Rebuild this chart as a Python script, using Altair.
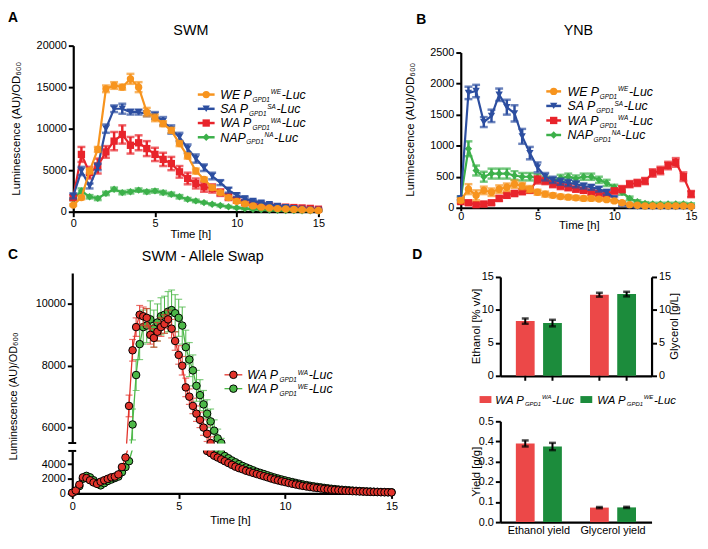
import altair as alt
import pandas as pd

FONT = "Liberation Sans"
W, H = 700, 530

# ---------------- Panel A (SWM) and B (YNB): time in hours ----------------
time_h = [0, 0.5, 1, 1.5, 2, 2.5, 3, 3.5, 4, 4.5, 5, 5.5, 6, 6.5, 7, 7.5,
          8, 8.5, 9, 9.5, 10, 10.5, 11, 11.5, 12, 12.5, 13, 13.5, 14, 14.5, 15]

A_WE = [800, 1700, 4900, 7500, 14800, 15200, 15000, 16000, 15000, 12000, 11300, 10600, 9800, 8200, 6700, 4900,
        3900, 2900, 2300, 1700, 1250, 950, 700, 550, 450, 380, 330, 280, 240, 200, 150]
A_WE_err = [100, 200, 300, 300, 400, 400, 300, 600, 600, 500, 400, 300, 300, 300, 300, 300,
            200, 200, 200, 150, 150, 100, 100, 100, 80, 80, 80, 80, 60, 60, 60]
A_SA = [1900, 4900, 3100, 5400, 10000, 12400, 12400, 12000, 12000, 11800, 11600, 10900, 9900, 9000, 7600, 6400,
        5300, 4300, 3500, 2600, 2000, 1600, 1300, 1100, 900, 700, 550, 420, 330, 260, 200]
A_SA_err = [300, 500, 300, 400, 500, 400, 600, 300, 300, 300, 400, 500, 500, 500, 500, 500,
            400, 400, 300, 300, 200, 200, 150, 150, 100, 100, 100, 100, 80, 80, 80]
A_WA = [1700, 6900, 4700, 5500, 7200, 8500, 9300, 8000, 8300, 7600, 6900, 6300, 5800, 4800, 4000, 3400,
        3000, 2800, 2300, 1800, 1400, 1100, 900, 800, 700, 600, 550, 500, 450, 400, 300]
A_WA_err = [300, 900, 700, 900, 700, 1100, 1100, 1000, 900, 900, 800, 800, 800, 700, 700, 600,
            600, 500, 400, 400, 300, 300, 200, 200, 200, 150, 150, 150, 100, 100, 100]
A_NA = [1500, 2500, 1800, 1600, 2200, 2700, 2300, 2400, 2600, 2400, 2500, 2300, 2100, 1800, 1500, 1300,
        1100, 900, 750, 600, 480, 380, 300, 250, 200, 170, 150, 130, 110, 100, 90]
A_NA_err = [100, 300, 200, 200, 200, 200, 200, 200, 200, 200, 200, 200, 200, 200, 150, 150,
            100, 100, 100, 100, 80, 80, 60, 60, 50, 50, 50, 50, 40, 40, 40]

B_WE = [120, 300, 200, 280, 250, 300, 330, 380, 350, 300, 250, 220, 200, 180, 170, 160,
        150, 150, 140, 130, 110, 80, 50, 40, 30, 30, 30, 30, 30, 30, 20]
B_WE_err = [30, 80, 80, 60, 60, 60, 60, 60, 50, 50, 40, 40, 30, 30, 30, 30,
            30, 30, 20, 20, 20, 20, 10, 10, 10, 10, 10, 10, 10, 10, 10]
B_SA = [150, 1850, 1880, 1380, 1480, 1820, 1620, 1520, 1150, 880, 650, 500, 450, 420, 400, 380,
        350, 330, 300, 250, 150, 60, 30, 20, 15, 10, 10, 10, 10, 10, 10]
B_SA_err = [30, 100, 100, 80, 100, 100, 120, 130, 120, 100, 80, 60, 50, 50, 50, 50,
            40, 40, 40, 40, 30, 30, 20, 20, 10, 10, 10, 10, 10, 10, 10]
B_WA = [100, 80, 50, 60, 80, 150, 200, 230, 260, 280, 450, 430, 380, 350, 330, 300,
        280, 250, 230, 220, 270, 300, 380, 400, 430, 560, 600, 680, 730, 500, 220]
B_WA_err = [30, 30, 30, 30, 30, 40, 40, 40, 40, 40, 60, 50, 50, 50, 50, 40,
            40, 40, 40, 40, 40, 50, 50, 50, 50, 60, 60, 60, 70, 70, 50]
B_NA = [150, 950, 600, 500, 550, 550, 550, 520, 500, 500, 480, 450, 430, 480, 500, 470,
        500, 500, 450, 400, 330, 250, 150, 100, 70, 60, 60, 60, 60, 60, 50]
B_NA_err = [30, 120, 80, 80, 80, 80, 80, 70, 60, 60, 60, 50, 50, 50, 50, 50,
            50, 50, 50, 50, 40, 40, 30, 20, 20, 20, 20, 20, 20, 20, 20]

# ---------------- Panel C (SWM - allele swap): time in minutes ----------------
time_C_min = [0, 10, 20, 30, 40, 50, 60, 70, 80, 90,
              100, 110, 120, 130, 140, 150, 160, 170, 180, 190,
              200, 210, 220, 230, 240, 250, 260, 270, 280, 290,
              300, 310, 320, 330, 340, 350, 360, 370, 380, 390,
              400, 410, 420, 430, 440, 450, 460, 470, 480, 490,
              500, 510, 520, 530, 540, 550, 560, 570, 580, 590,
              600, 610, 620, 630, 640, 650, 660, 670, 680, 690,
              700, 710, 720, 730, 740, 750, 760, 770, 780, 790,
              800, 810, 820, 830, 840, 850, 860, 870, 880, 890, 900]
C_WA = [100, 400, 1200, 2200, 2100, 1800, 1500, 1300, 1600, 1800,
        2000, 2200, 2300, 2600, 3600, 4900, 6700, 8500, 9250, 9650,
        9600, 9550, 9000, 8900, 9100, 9250, 9350, 9500, 9200, 8800,
        8350, 8000, 7300, 7000, 6700, 6450, 6250, 6000, 5800, 5500,
        5150, 4900, 4650, 4400, 4150, 3900, 3650, 3450, 3300, 3100,
        2950, 2800, 2650, 2500, 2350, 2200, 2050, 1900, 1780, 1650,
        1550, 1430, 1320, 1220, 1120, 1030, 950, 870, 800, 740,
        680, 620, 570, 520, 480, 440, 400, 370, 340, 310,
        290, 270, 250, 230, 210, 200, 185, 170, 160, 150, 140]
C_WA_err = [50, 50, 80, 100, 100, 80, 80, 60, 60, 60,
            60, 80, 80, 100, 150, 200, 350, 350, 300, 300,
            300, 300, 300, 300, 300, 300, 300, 300, 300, 300,
            300, 300, 300, 250, 250, 250, 250, 250, 250, 200,
            150, 150, 120, 120, 100, 100, 100, 100, 80, 80,
            80, 80, 60, 60, 60, 60, 50, 50, 50, 50,
            40, 40, 40, 40, 30, 30, 30, 30, 30, 30,
            20, 20, 20, 20, 20, 20, 20, 20, 20, 20,
            10, 10, 10, 10, 10, 10, 10, 10, 10, 10, 10]
C_WE = [100, 300, 1000, 2000, 2400, 2200, 1800, 1400, 1100, 1400,
        1700, 1900, 2100, 2300, 2900, 3600, 4400, 6100, 7700, 8700,
        9250, 9300, 9500, 9200, 9400, 9600, 9650, 9750, 9800, 9700,
        9550, 9300, 8600, 8200, 7850, 7350, 7050, 6750, 6450, 6200,
        5900, 5650, 5500, 5100, 4800, 4500, 4250, 4000, 3750, 3550,
        3350, 3150, 2950, 2800, 2650, 2480, 2320, 2170, 2030, 1900,
        1780, 1660, 1550, 1440, 1330, 1230, 1140, 1050, 970, 900,
        830, 760, 700, 640, 590, 540, 500, 460, 420, 390,
        360, 330, 300, 280, 260, 240, 220, 200, 190, 180, 160]
C_WE_err = [50, 50, 80, 100, 100, 100, 80, 60, 60, 60,
            60, 80, 80, 100, 120, 150, 200, 500, 500, 500,
            550, 550, 600, 600, 600, 600, 600, 650, 650, 600,
            600, 600, 550, 550, 500, 500, 500, 450, 450, 400,
            350, 300, 150, 120, 100, 100, 100, 100, 80, 80,
            80, 80, 60, 60, 60, 60, 50, 50, 50, 50,
            40, 40, 40, 40, 30, 30, 30, 30, 30, 30,
            20, 20, 20, 20, 20, 20, 20, 20, 20, 20,
            10, 10, 10, 10, 10, 10, 10, 10, 10, 10, 10]
C_UPPER_DOMAIN = [5500, 11000]
C_LOWER_DOMAIN = [0, 5800]

# ---------------- Panel D ----------------
D_titer_groups = ["Ethanol", "Glycerol"]
D_titer_WA = [8.3, 12.3]
D_titer_WA_err = [0.4, 0.3]
D_titer_WE = [8.0, 12.4]
D_titer_WE_err = [0.5, 0.35]
D_yield_groups = ["Ethanol yield", "Glycerol yield"]
D_yield_WA = [0.39, 0.072]
D_yield_WA_err = [0.015, 0.003]
D_yield_WE = [0.375, 0.073]
D_yield_WE_err = [0.018, 0.003]

SER_AB = ["WE", "SA", "WA", "NA"]
COL_AB = ["#F7941E", "#2C4EA0", "#E8242B", "#3CB04A"]
SHP_AB = ["circle", "triangle-down", "square", "diamond"]
SER_C = ["WA_WA", "WA_WE"]
COL_C = ["#E2332B", "#4DB848"]
STRAIN_D = ["WA", "WE"]
COL_D = ["#EC4848", "#1C8C3C"]

LEG_AB = [("WE", ("WE P", "GPD1", "WE", "-Luc")), ("SA", ("SA P", "GPD1", "SA", "-Luc")),
          ("WA", ("WA P", "GPD1", "WA", "-Luc")), ("NA", ("NAP", "GPD1", "NA", "-Luc"))]
LEG_C = [("WA_WA", ("WA P", "GPD1", "WA", "-Luc")), ("WA_WE", ("WA P", "GPD1", "WE", "-Luc"))]
YTITLE = "Luminescence (AU)/OD₆₀₀"

# ---------------- helpers ----------------
ONE = pd.DataFrame({"k": [0]})
CW = {"W": 944, "E": 667, " ": 278, "P": 667, "S": 667, "A": 667, "N": 722, "G": 778,
      "D": 722, "1": 556, "-": 333, "L": 556, "u": 556, "c": 500}


def tw(s, fs):
    return sum(CW.get(ch, 556) for ch in s) * fs / 1000.0


def long_df(times, smap):
    frames = []
    for s, (vals, errs) in smap.items():
        frames.append(pd.DataFrame({
            "t": times, "v": vals,
            "lo": [v - e for v, e in zip(vals, errs)],
            "hi": [v + e for v, e in zip(vals, errs)],
            "series": s}))
    return pd.concat(frames, ignore_index=True)


def label(txt, x, y, size=14, weight="bold", align="left", baseline="top", angle=None, style="normal"):
    kw = dict(text=txt, fontSize=size, fontWeight=weight, align=align, baseline=baseline,
              color="black", fontStyle=style)
    if angle is not None:
        kw["angle"] = angle
    return alt.Chart(ONE).mark_text(**kw).encode(x=alt.value(x), y=alt.value(y))


def hline(x1, x2, y, w=2):
    return alt.Chart(ONE).mark_rule(color="black", strokeWidth=w).encode(
        x=alt.value(x1), x2=alt.value(x2), y=alt.value(y))


def white(x1, x2, y1, y2):
    return alt.Chart(ONE).mark_rect(color="white").encode(
        x=alt.value(x1), x2=alt.value(x2), y=alt.value(y1), y2=alt.value(y2))


def legend_text(entries, x0, y0, dy, main, small):
    rows = []
    for i, (_, parts) in enumerate(entries):
        m, sub, sup, tail = parts
        yb = y0 + i * dy + main * 0.36
        x = x0
        rows.append(dict(txt=m, px=x, py=yb, fs=main))
        x += tw(m, main) + 0.6
        rows.append(dict(txt=sub, px=x, py=yb + 2.8, fs=small))
        xs = x + tw(sub, small) + 0.8
        rows.append(dict(txt=sup, px=xs, py=yb - 4.6, fs=small))
        x = xs + tw(sup, small) + 0.6
        rows.append(dict(txt=tail, px=x, py=yb, fs=main))
    df = pd.DataFrame(rows)
    return alt.Chart(df).mark_text(align="left", baseline="alphabetic", fontStyle="italic", color="black").encode(
        x=alt.X("px:Q", scale=None, axis=None), y=alt.Y("py:Q", scale=None, axis=None),
        text="txt:N", size=alt.Size("fs:Q", scale=None, legend=None))


colAB = alt.Color("series:N", scale=alt.Scale(domain=SER_AB, range=COL_AB), legend=None)
shpAB = alt.Shape("series:N", scale=alt.Scale(domain=SER_AB, range=SHP_AB), legend=None)
colC = alt.Color("series:N", scale=alt.Scale(domain=SER_C, range=COL_C), legend=None)
colD = alt.Color("strain:N", scale=alt.Scale(domain=STRAIN_D, range=COL_D), legend=None)


def legend_sym_ab(xc, half, y0, dy):
    n = len(LEG_AB)
    df = pd.DataFrame({"series": [e[0] for e in LEG_AB], "x1": [xc - half] * n, "x2": [xc + half] * n,
                       "xc": [xc] * n, "py": [y0 + i * dy for i in range(n)]})
    line = alt.Chart(df).mark_rule(strokeWidth=2.5).encode(
        x=alt.X("x1:Q", scale=None, axis=None), x2="x2:Q", y=alt.Y("py:Q", scale=None, axis=None), color=colAB)
    pts = alt.Chart(df).mark_point(filled=True, opacity=1, size=55).encode(
        x=alt.X("xc:Q", scale=None, axis=None), y=alt.Y("py:Q", scale=None, axis=None), color=colAB, shape=shpAB)
    return alt.layer(line, pts)


def lum_panel(df, xr, yr, ymax, ystep, tsize, lpad):
    X = alt.X("t:Q", scale=alt.Scale(domain=[0, 15], range=xr, nice=False),
              axis=alt.Axis(orient="bottom", offset=yr[0] - H, values=[0, 5, 10, 15], title=None,
                            tickSize=tsize, labelPadding=lpad))
    yax = alt.Axis(orient="left", offset=-xr[0], values=list(range(0, ymax + 1, ystep)), format="d", title=None)
    ys = alt.Scale(domain=[0, ymax], range=yr, nice=False)

    def Y(f):
        return alt.Y(f, scale=ys, axis=yax)
    layers = []
    for s in ["NA", "WA", "SA", "WE"]:
        b = alt.Chart(df).transform_filter(alt.datum.series == s)
        layers += [
            b.mark_rule(strokeWidth=2.5).encode(x=X, y=Y("lo:Q"), y2="hi:Q", color=colAB),
            b.mark_tick(orient="horizontal", size=8, thickness=2.5).encode(x=X, y=Y("hi:Q"), color=colAB),
            b.mark_tick(orient="horizontal", size=8, thickness=2.5).encode(x=X, y=Y("lo:Q"), color=colAB),
            b.mark_line(strokeWidth=2.2).encode(x=X, y=Y("v:Q"), color=colAB),
            b.mark_point(filled=True, opacity=1, size=55).encode(x=X, y=Y("v:Q"), color=colAB, shape=shpAB),
        ]
    return alt.layer(*layers)


# ---------------- Panel A ----------------
dfA = long_df(time_h, {"WE": (A_WE, A_WE_err), "SA": (A_SA, A_SA_err),
                       "WA": (A_WA, A_WA_err), "NA": (A_NA, A_NA_err)})
panelA = lum_panel(dfA, [66, 314], [203, 35], 20000, 5000, 5, 1)

# ---------------- Panel B ----------------
dfB = long_df(time_h, {"WE": (B_WE, B_WE_err), "SA": (B_SA, B_SA_err),
                       "WA": (B_WA, B_WA_err), "NA": (B_NA, B_NA_err)})
panelB = lum_panel(dfB, [458, 691], [199, 42], 2500, 500, 3, 0)

# ---------------- Panel C (broken y axis) ----------------
C_series = {"WA_WA": (C_WA, C_WA_err), "WA_WE": (C_WE, C_WE_err)}


def c_frames(keep_line, keep_pt):
    lines, pts = [], []
    for s, (vals, errs) in C_series.items():
        n = len(vals)
        mask = [keep_line(v) for v in vals]
        ext = [mask[i] or (i > 0 and mask[i - 1]) or (i < n - 1 and mask[i + 1]) for i in range(n)]
        seg, cur, prev = [], 0, False
        for e in ext:
            if e and not prev:
                cur += 1
            seg.append(cur)
            prev = e
        for i in range(n):
            row = dict(t=time_C_min[i] / 60, v=vals[i], lo=vals[i] - errs[i], hi=vals[i] + errs[i],
                       series=s, seg=f"{s}{seg[i]}")
            if ext[i]:
                lines.append(row)
            if keep_pt(vals[i]):
                pts.append(row)
    return pd.DataFrame(lines), pd.DataFrame(pts)


upL, upP = c_frames(lambda v: v >= C_UPPER_DOMAIN[0], lambda v: v >= C_UPPER_DOMAIN[0] - 100)
loL, loP = c_frames(lambda v: v <= C_LOWER_DOMAIN[1], lambda v: v <= C_LOWER_DOMAIN[1] + 100)
xsC = alt.Scale(domain=[0, 15], range=[65, 388], nice=False)


def c_panel(dfl, dfp, ys, yax, X):
    out = []

    def Y(f):
        return alt.Y(f, scale=ys, axis=yax)
    for s in ["WA_WE", "WA_WA"]:
        bl = alt.Chart(dfl).transform_filter(alt.datum.series == s)
        bp = alt.Chart(dfp).transform_filter(alt.datum.series == s)
        out += [
            bp.mark_rule(strokeWidth=1).encode(x=X, y=Y("lo:Q"), y2="hi:Q", color=colC),
            bp.mark_tick(orient="horizontal", size=7, thickness=1.2).encode(x=X, y=Y("hi:Q"), color=colC),
            bp.mark_tick(orient="horizontal", size=7, thickness=1.2).encode(x=X, y=Y("lo:Q"), color=colC),
            bl.mark_line(strokeWidth=1.3).encode(x=X, y=Y("v:Q"), color=colC, detail="seg:N"),
            bp.mark_circle(size=58, opacity=1, stroke="black", strokeWidth=1).encode(
                x=X, y=Y("v:Q"), color=colC),
        ]
    return alt.layer(*out)


cu = c_panel(upL, upP, alt.Scale(domain=C_UPPER_DOMAIN, range=[437, 265], nice=False, zero=False),
             alt.Axis(orient="left", offset=-65, values=[6000, 8000, 10000], format="d", title=None),
             alt.X("t:Q", scale=xsC, axis=None))
cl = c_panel(loL, loP, alt.Scale(domain=C_LOWER_DOMAIN, range=[488, 445], nice=False),
             alt.Axis(orient="left", offset=-65, values=[0, 2000, 4000], format="d", title=None),
             alt.X("t:Q", scale=xsC, axis=alt.Axis(orient="bottom", offset=488 - H, values=[0, 5, 10, 15],
                                                    title=None, labelPadding=2)))

legC_df = pd.DataFrame({"series": [e[0] for e in LEG_C], "x1": [219, 219], "x2": [237, 237],
                        "xc": [228, 228], "py": [368, 382]})
legC = alt.layer(
    alt.Chart(legC_df).mark_rule(strokeWidth=1.3).encode(
        x=alt.X("x1:Q", scale=None, axis=None), x2="x2:Q", y=alt.Y("py:Q", scale=None, axis=None), color=colC),
    alt.Chart(legC_df).mark_circle(size=58, opacity=1, stroke="black", strokeWidth=1).encode(
        x=alt.X("xc:Q", scale=None, axis=None), y=alt.Y("py:Q", scale=None, axis=None), color=colC),
)

# ---------------- Panel D ----------------
def bar_df(groups, wa, wa_e, we, we_e):
    rows = []
    for g, v, e in zip(groups, wa, wa_e):
        rows.append(dict(grp=g, strain="WA", val=v, lo=v - e, hi=v + e))
    for g, v, e in zip(groups, we, we_e):
        rows.append(dict(grp=g, strain="WE", val=v, lo=v - e, hi=v + e))
    return pd.DataFrame(rows)


dfD1 = bar_df(D_titer_groups, D_titer_WA, D_titer_WA_err, D_titer_WE, D_titer_WE_err)
dfD2 = bar_df(D_yield_groups, D_yield_WA, D_yield_WA_err, D_yield_WE, D_yield_WE_err)
xo = alt.XOffset("strain:N", scale=alt.Scale(domain=STRAIN_D, paddingInner=0.31, paddingOuter=0.38))


def bar_group(df, flt, X, ys, yax):
    b = alt.Chart(df)
    if flt is not None:
        b = b.transform_filter(alt.datum.grp == flt)

    def Y(f):
        return alt.Y(f, scale=ys, axis=yax)
    return alt.layer(
        b.mark_bar().encode(x=X, xOffset=xo, y=Y("val:Q"), color=colD),
        b.mark_rule(color="black", strokeWidth=2).encode(x=X, xOffset=xo, y=Y("lo:Q"), y2="hi:Q"),
        b.mark_tick(color="black", orient="horizontal", size=7, thickness=2.5).encode(x=X, xOffset=xo, y=Y("hi:Q")),
        b.mark_tick(color="black", orient="horizontal", size=7, thickness=2.5).encode(x=X, xOffset=xo, y=Y("lo:Q")),
    )


XD1 = alt.X("grp:N", scale=alt.Scale(domain=D_titer_groups, range=[498, 651], paddingInner=0.1, paddingOuter=0.07),
            axis=alt.Axis(orient="bottom", offset=369 - H, labels=False, ticks=False, title=None))
ysD1 = alt.Scale(domain=[0, 15], range=[369, 269], nice=False)
ax_eth = alt.Axis(orient="left", offset=-498, values=[0, 5, 10, 15], title=None)
ax_gly = alt.Axis(orient="right", offset=651 - W, values=[0, 5, 10, 15], title=None)

dtop = alt.layer(
    bar_group(dfD1, "Ethanol", XD1, ysD1, ax_eth),
    bar_group(dfD1, "Glycerol", XD1, ysD1, ax_gly),
    alt.Chart(dfD1).mark_rule(color="black", strokeWidth=2).encode(
        x=XD1, xOffset=xo, y=alt.value(369), y2=alt.value(374)),
).resolve_scale(y="independent")

XD2 = alt.X("grp:N", scale=alt.Scale(domain=D_yield_groups, range=[498, 651], paddingInner=0.1, paddingOuter=0.07),
            axis=alt.Axis(orient="bottom", offset=517 - H, ticks=False, tickSize=0, title=None,
                          labelAngle=0, labelPadding=3))
ax_yield = alt.Axis(orient="left", offset=-498, values=[0, 0.1, 0.2, 0.3, 0.4, 0.5], format=".1f", title=None)
dbot = bar_group(dfD2, None, XD2, alt.Scale(domain=[0, 0.5], range=[517, 415], nice=False), ax_yield)

legD = []
for i, (sx, tx) in enumerate([(477, 493), (579, 596)]):
    legD.append(alt.Chart(ONE).mark_rect(color=COL_D[i]).encode(
        x=alt.value(sx), x2=alt.value(sx + 12), y=alt.value(389.5), y2=alt.value(396.5)))
legD.append(legend_text([("WA", ("WA P", "GPD1", "WA", "-Luc"))], 493, 393, 0, 11.5, 6))
legD.append(legend_text([("WE", ("WA P", "GPD1", "WE", "-Luc"))], 596, 393, 0, 11.5, 6))

# ---------------- texts ----------------
texts = [
    label("A", 0, 0), label("B", 413, 2), label("C", 0, 240), label("D", 409, 240),
    label("SWM", 185, 20, size=14.5, weight="normal", align="center", baseline="middle"),
    label("YNB", 577, 20, size=14.5, weight="normal", align="center", baseline="middle"),
    label("SWM - Allele Swap", 197, 249, size=14.5, weight="normal", align="center", baseline="middle"),
    label(YTITLE, 9, 119, size=11.5, weight="normal", align="center", baseline="middle", angle=270),
    label(YTITLE, 408, 120, size=11.5, weight="normal", align="center", baseline="middle", angle=270),
    label(YTITLE, 6, 390, size=11, weight="normal", align="center", baseline="middle", angle=270),
    label("Time [h]", 185, 227, size=11.5, weight="normal", align="center", baseline="middle"),
    label("Time [h]", 578, 217, size=11.5, weight="normal", align="center", baseline="middle"),
    label("Time [h]", 225, 516, size=11.5, weight="normal", align="center", baseline="middle"),
    label("Ethanol [% v/v]", 474, 319, size=11.5, weight="normal", align="center", baseline="middle", angle=270),
    label("Glycerol [g/L]", 675, 319, size=11.5, weight="normal", align="center", baseline="middle", angle=270),
    label("Yield [g/g]", 474, 466, size=11.5, weight="normal", align="center", baseline="middle", angle=270),
]

chart = alt.layer(
    panelA, legend_sym_ab(200.5, 8.5, 84.5, 14.4), legend_text(LEG_AB, 214.7, 84.5, 14.4, 12.5, 6.5),
    panelB, legend_sym_ab(552, 7.5, 81.3, 14.7), legend_text(LEG_AB, 566, 81.3, 14.7, 12.5, 6.5),
    cu, white(67, 396, 437.6, 475), cl, white(67, 396, 437.6, 444.6),
    hline(61, 69, 437), hline(61, 69, 445),
    legC, legend_text(LEG_C, 242, 368, 14, 12.5, 6.5),
    dtop, dbot, *legD,
    *texts,
).resolve_scale(
    x="independent", y="independent", color="independent", shape="independent"
).properties(
    width=W, height=H, autosize=alt.AutoSizeParams(type="none"), padding=0
).configure(font=FONT).configure_view(stroke=None).configure_axis(
    domainColor="black", domainWidth=2.2, tickColor="black", tickWidth=2, tickSize=5,
    labelColor="black", labelFontSize=11, labelFont=FONT, labelFlush=False, labelOverlap=False,
    grid=False
)

chart.save("out.html", embed_options={"renderer": "svg", "actions": False})
